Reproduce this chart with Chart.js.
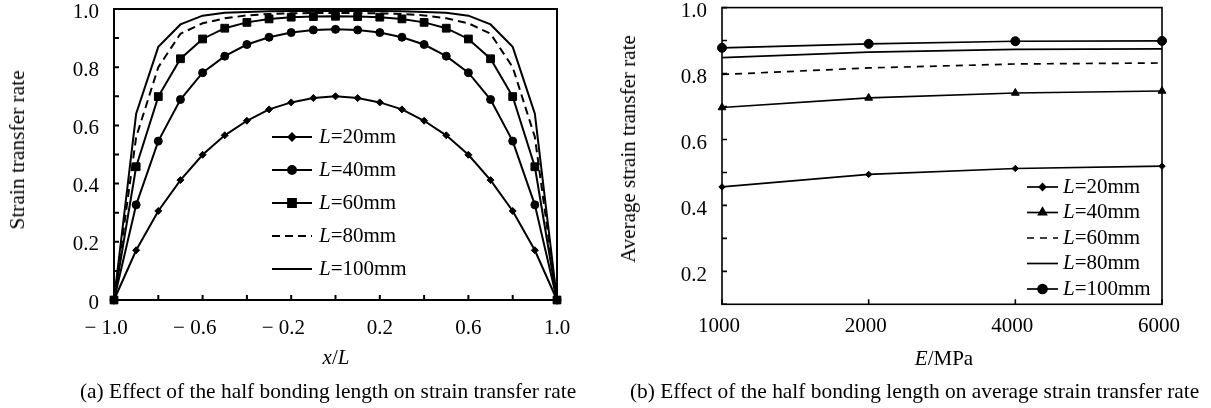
<!DOCTYPE html>
<html lang="en">

<head>
    <meta charset="UTF-8">
    <title>Effect of the half bonding length</title>
    <script src="https://cdn.jsdelivr.net/npm/chart.js"></script>
    <style>
        body {
            margin: 0;
            width: 1211px;
            height: 408px;
            overflow: hidden;
            background: #fff;
            position: relative;
            font-family: 'Liberation Serif', 'Times New Roman', serif;
            color: #000;
        }

        .box { position: absolute; top: -20px; height: 400px; }
        .txt { position: absolute; white-space: nowrap; font-size: 21px; line-height: 24px; }
        .ytitle { transform: translate(-50%, -50%) rotate(-90deg); }
        .mid { transform: translateX(-50%); }
        .cap { font-size: 21.4px; }
    </style>
</head>

<body>
    <div class="box" style="left:0;width:600px"><canvas id="chartA" width="600" height="400"></canvas></div>
    <div class="box" style="left:600px;width:611px"><canvas id="chartB" width="611" height="400"></canvas></div>

    <div class="txt ytitle" style="left:17px;top:150px;font-size:21.4px">Strain transfer rate</div>
    <div class="txt mid" style="left:336px;top:345px"><i>x</i>/<i>L</i></div>
    <div class="txt cap" style="left:80px;top:379px">(a) Effect of the half bonding length on strain transfer rate</div>

    <div class="txt ytitle" style="left:628px;top:149px">Average strain transfer rate</div>
    <div class="txt mid" style="left:944px;top:346px"><i>E</i>/MPa</div>
    <div class="txt cap" style="left:630px;top:379px">(b) Effect of the half bonding length on average strain transfer rate</div>

    <script>
        // (a) strain transfer rate along x/L
        const xPos = [-1.0, -0.9, -0.8, -0.7, -0.6, -0.5, -0.4, -0.3, -0.2, -0.1, 0,
            0.1, 0.2, 0.3, 0.4, 0.5, 0.6, 0.7, 0.8, 0.9, 1.0];
        const rateL20 = [0, 0.171, 0.306, 0.412, 0.499, 0.566, 0.616, 0.655, 0.679, 0.694, 0.700,
            0.694, 0.679, 0.655, 0.616, 0.566, 0.499, 0.412, 0.306, 0.171, 0];
        const rateL40 = [0, 0.327, 0.546, 0.689, 0.781, 0.838, 0.878, 0.903, 0.919, 0.928, 0.930,
            0.928, 0.919, 0.903, 0.878, 0.838, 0.781, 0.689, 0.546, 0.327, 0];
        const rateL60 = [0, 0.458, 0.699, 0.829, 0.897, 0.934, 0.954, 0.966, 0.972, 0.974, 0.975,
            0.974, 0.972, 0.966, 0.954, 0.934, 0.897, 0.829, 0.699, 0.458, 0];
        const rateL80 = [0, 0.56, 0.80, 0.915, 0.951, 0.968, 0.978, 0.983, 0.985, 0.986, 0.986,
            0.986, 0.985, 0.983, 0.978, 0.968, 0.951, 0.915, 0.80, 0.56, 0];
        const rateL100 = [0, 0.64, 0.87, 0.947, 0.977, 0.987, 0.990, 0.992, 0.993, 0.993, 0.993,
            0.993, 0.993, 0.992, 0.990, 0.987, 0.977, 0.947, 0.87, 0.64, 0];
        const namesA = ['L=20mm', 'L=40mm', 'L=60mm', 'L=80mm', 'L=100mm'];

        // (b) average strain transfer rate vs E
        const eLabels = ['1000', '2000', '4000', '6000'];
        const avgL20 = [0.456, 0.494, 0.512, 0.519];
        const avgL40 = [0.697, 0.726, 0.741, 0.747];
        const avgL60 = [0.797, 0.817, 0.829, 0.832];
        const avgL80 = [0.848, 0.865, 0.873, 0.875];
        const avgL100 = [0.878, 0.890, 0.898, 0.899];
        const namesB = ['L=20mm', 'L=40mm', 'L=60mm', 'L=80mm', 'L=100mm'];

        const FONT = "'Liberation Serif', 'Times New Roman', serif";

        // box round the plot and short inward tick marks
        const framePlugin = {
            id: 'frame',
            beforeDatasetsDraw(chart, args, opts) {
                const ctx = chart.ctx;
                const a = chart.chartArea;
                const sx = chart.scales.x, sy = chart.scales.y;
                ctx.save();
                ctx.strokeStyle = '#000';
                ctx.lineWidth = opts.width;
                ctx.strokeRect(a.left, a.top, a.right - a.left, a.bottom - a.top);
                ctx.beginPath();
                sx.ticks.forEach((t, i) => {
                    const px = sx.getPixelForTick(i);
                    ctx.moveTo(px, a.bottom);
                    ctx.lineTo(px, a.bottom - opts.tick);
                });
                sy.ticks.forEach((t, i) => {
                    const py = sy.getPixelForTick(i);
                    ctx.moveTo(a.left, py);
                    ctx.lineTo(a.left + opts.tick, py);
                });
                ctx.stroke();
                ctx.restore();
            }
        };

        // legend with italic L
        const keyPlugin = {
            id: 'seriesKey',
            afterDatasetsDraw(chart, args, opts) {
                const ctx = chart.ctx;
                chart.data.datasets.forEach((ds, i) => {
                    const y = opts.rows[i];
                    ctx.save();
                    ctx.strokeStyle = '#000';
                    ctx.fillStyle = '#000';
                    ctx.lineWidth = ds.borderWidth;
                    ctx.setLineDash(ds.borderDash || []);
                    ctx.beginPath();
                    ctx.moveTo(opts.x1, y);
                    ctx.lineTo(opts.x2, y);
                    ctx.stroke();
                    ctx.setLineDash([]);
                    if (ds.pointRadius > 0) {
                        Chart.helpers.drawPoint(ctx, {
                            pointStyle: ds.pointStyle,
                            radius: ds.pointRadius,
                            rotation: 0,
                            borderWidth: 1
                        }, (opts.x1 + opts.x2) / 2, y);
                    }
                    const [sym, rest] = ds.label.split('=');
                    ctx.textBaseline = 'middle';
                    ctx.textAlign = 'left';
                    ctx.font = 'italic ' + opts.size + 'px ' + FONT;
                    ctx.fillText(sym, opts.tx, y);
                    const w = ctx.measureText(sym).width;
                    ctx.font = opts.size + 'px ' + FONT;
                    ctx.fillText('=' + rest, opts.tx + w, y);
                    ctx.restore();
                });
            }
        };

        function line(label, data, extra) {
            return Object.assign({
                label: label,
                data: data,
                borderColor: '#000',
                backgroundColor: '#000',
                pointBackgroundColor: '#000',
                pointBorderColor: '#000',
                pointBorderWidth: 1,
                tension: 0,
                clip: false,
                pointRadius: 0
            }, extra);
        }

        const tickFont = { family: FONT, size: 21 };

        function fmtX(v) {
            const s = Math.abs(v).toFixed(1);
            return v < -0.01 ? '\u2212 ' + s + '\u2002 ' : s;
        }

        new Chart(document.getElementById('chartA'), {
            type: 'line',
            data: {
                datasets: [
                    line(namesA[0], xPos.map((x, i) => ({ x: x, y: rateL20[i] })), { borderWidth: 2, pointStyle: 'rectRot', pointRadius: 3.5 }),
                    line(namesA[1], xPos.map((x, i) => ({ x: x, y: rateL40[i] })), { borderWidth: 2, pointStyle: 'circle', pointRadius: 4 }),
                    line(namesA[2], xPos.map((x, i) => ({ x: x, y: rateL60[i] })), { borderWidth: 2, pointStyle: 'rect', pointRadius: 5.5 }),
                    line(namesA[3], xPos.map((x, i) => ({ x: x, y: rateL80[i] })), { borderWidth: 2, borderDash: [8, 5] }),
                    line(namesA[4], xPos.map((x, i) => ({ x: x, y: rateL100[i] })), { borderWidth: 2 })
                ]
            },
            options: {
                responsive: false,
                animation: false,
                devicePixelRatio: 1,
                layout: { padding: { left: 0, top: 29, right: 43, bottom: 0 } },
                plugins: {
                    legend: { display: false },
                    tooltip: { enabled: false },
                    frame: { width: 2, tick: 5 },
                    seriesKey: { x1: 272, x2: 312, tx: 319, size: 21, rows: [157, 190, 223, 256, 289] }
                },
                scales: {
                    x: {
                        type: 'linear', min: -1, max: 1,
                        grid: { display: false, drawTicks: false },
                        border: { display: false },
                        ticks: {
                            stepSize: 0.2, autoSkip: false, maxRotation: 0,
                            color: '#000', font: tickFont, padding: 16,
                            callback: (v, i) => i % 2 === 0 ? fmtX(v) : ''
                        },
                        afterFit: s => { s.height = 80; }
                    },
                    y: {
                        min: 0, max: 1,
                        grid: { display: false, drawTicks: false },
                        border: { display: false },
                        ticks: {
                            stepSize: 0.1, autoSkip: false, labelOffset: 3,
                            color: '#000', font: tickFont, padding: 15,
                            callback: (v, i) => i % 2 === 0 ? (i === 0 ? '0' : v.toFixed(1)) : ''
                        },
                        afterFit: s => { s.width = 114; }
                    }
                }
            },
            plugins: [framePlugin, keyPlugin]
        });

        new Chart(document.getElementById('chartB'), {
            type: 'line',
            data: {
                labels: eLabels,
                datasets: [
                    line(namesB[0], avgL20, { borderWidth: 1.7, pointStyle: 'rectRot', pointRadius: 3.2 }),
                    line(namesB[1], avgL40, { borderWidth: 1.7, pointStyle: 'triangle', pointRadius: 4.5 }),
                    line(namesB[2], avgL60, { borderWidth: 1.7, borderDash: [7, 6] }),
                    line(namesB[3], avgL80, { borderWidth: 1.7 }),
                    line(namesB[4], avgL100, { borderWidth: 1.7, pointStyle: 'circle', pointRadius: 4.5 })
                ]
            },
            options: {
                responsive: false,
                animation: false,
                devicePixelRatio: 1,
                layout: { padding: { left: 0, top: 27, right: 49, bottom: 0 } },
                plugins: {
                    legend: { display: false },
                    tooltip: { enabled: false },
                    frame: { width: 1.6, tick: 5 },
                    seriesKey: { x1: 427, x2: 458, tx: 463, size: 21, rows: [207, 232.5, 258, 283.5, 309] }
                },
                scales: {
                    x: {
                        type: 'category', offset: false,
                        grid: { display: false, drawTicks: false, offset: false },
                        border: { display: false },
                        ticks: {
                            autoSkip: false, maxRotation: 0, labelOffset: -3,
                            color: '#000', font: tickFont, padding: 10
                        },
                        afterFit: s => { s.height = 75.7; }
                    },
                    y: {
                        min: 0.1, max: 1.0,
                        grid: { display: false, drawTicks: false },
                        border: { display: false },
                        ticks: {
                            stepSize: 0.1, autoSkip: false, labelOffset: 4,
                            color: '#000', font: tickFont, padding: 15,
                            callback: (v, i) => i % 2 === 1 ? v.toFixed(1) : ''
                        },
                        afterFit: s => { s.width = 122; }
                    }
                }
            },
            plugins: [framePlugin, keyPlugin]
        });
    </script>
</body>

</html>
